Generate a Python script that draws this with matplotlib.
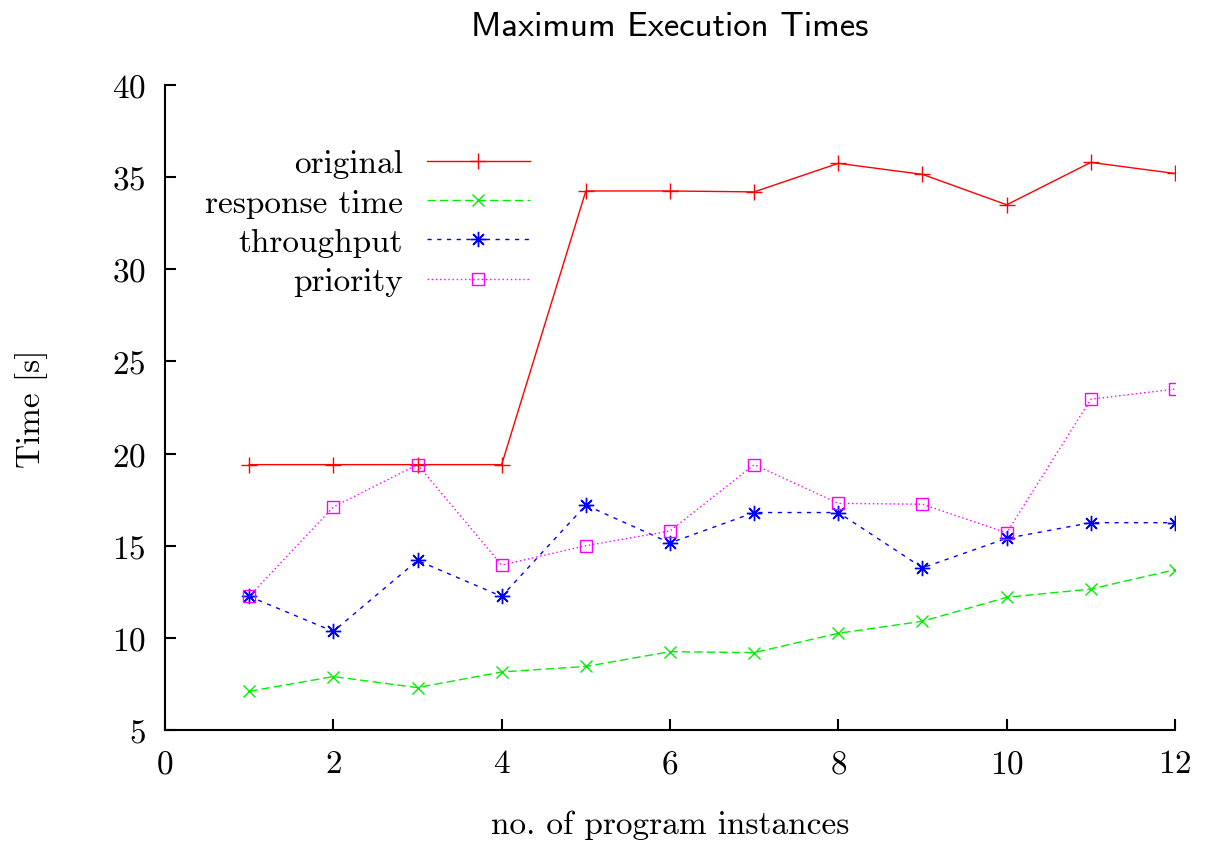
import matplotlib.pyplot as plt

# --- Dados ---
instancias = [1, 2, 3, 4, 5, 6, 7, 8, 9, 10, 11, 12]
original = [19.4, 19.4, 19.4, 19.4, 34.25, 34.25, 34.2, 35.75, 35.15, 33.5, 35.8, 35.2]
response_time = [7.1, 7.9, 7.3, 8.15, 8.45, 9.25, 9.2, 10.25, 10.9, 12.2, 12.65, 13.7]
throughput = [12.25, 10.35, 14.2, 12.25, 17.2, 15.15, 16.8, 16.8, 13.8, 15.4, 16.25, 16.25]
priority = [12.25, 17.1, 19.4, 13.95, 15.0, 15.8, 19.4, 17.3, 17.25, 15.7, 22.95, 23.5]

plt.rcParams['font.family'] = ['cmr10', 'DejaVu Serif']
plt.rcParams['axes.formatter.use_mathtext'] = True
FS = 24

fig = plt.figure(figsize=(12.05, 8.45), dpi=100)
ax = fig.add_axes([165 / 1205, 1 - 731 / 845, 1010 / 1205, 645 / 845])

ax.plot(instancias, original, color='#ff0000', lw=1.0, ls='-',
        marker='+', ms=11, mew=1.0, label='original')
ax.plot(instancias, response_time, color='#00ee00', lw=1.0, ls=(0, (6, 3)),
        marker='x', ms=9, mew=1.0, label='response time')
ax.plot(instancias, throughput, color='#0000ff', lw=1.0, ls=(0, (3, 4)),
        marker=(8, 2, 0), ms=11, mew=1.0, label='throughput')
ax.plot(instancias, priority, color='#ff00ff', lw=1.0, ls=(0, (1, 2)),
        marker='s', ms=9, mew=1.0, mfc='none', label='priority')

ax.set_xlim(0, 12)
ax.set_ylim(5, 40)
ax.set_xticks(range(0, 13, 2))
ax.set_yticks(range(5, 41, 5))

for lado in ('top', 'right'):
    ax.spines[lado].set_visible(False)
for lado in ('left', 'bottom'):
    ax.spines[lado].set_linewidth(1.5)
ax.tick_params(direction='in', length=8, width=1.5, labelsize=FS)
ax.tick_params(axis='y', pad=14)
ax.tick_params(axis='x', pad=14)

ax.set_xlabel('no. of program instances', fontsize=FS, labelpad=22)
ax.set_ylabel('Time [s]', fontsize=FS, labelpad=46)
fig.text(670 / 1205, 1 - 28 / 845, 'Maximum Execution Times', family=['cmss10', 'DejaVu Sans'],
         fontsize=25, ha='center', va='center')

# legenda: texto alinhado à direita, amostra de linha depois
ax.legend(loc='upper right', bbox_to_anchor=((530 - 165) / 1010, (731 - 150) / 645),
          frameon=False, markerfirst=False, fontsize=FS, handlelength=3.1,
          handletextpad=0.7, labelspacing=0.3, borderaxespad=0, borderpad=0)

plt.savefig('out.png', dpi=100)
